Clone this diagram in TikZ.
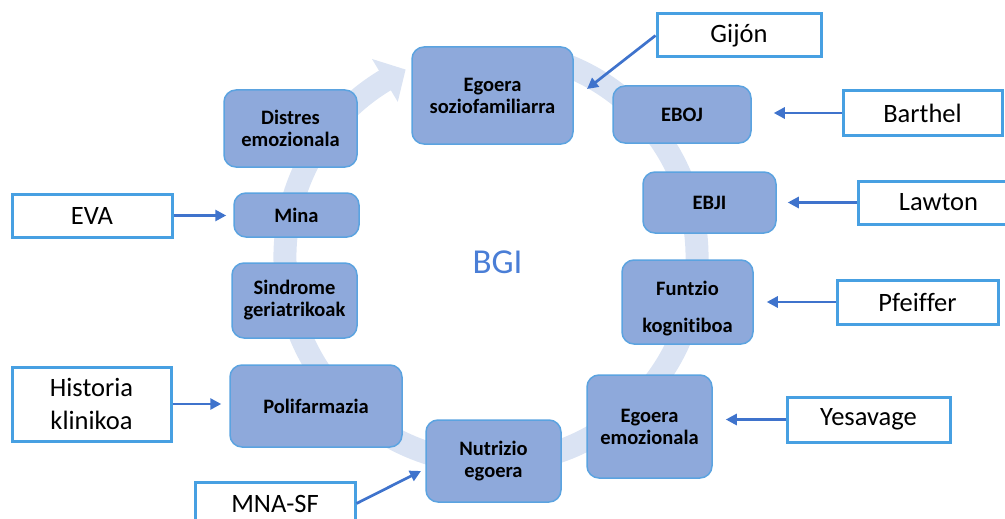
\documentclass[tikz,border=0pt]{standalone}
\usepackage{fontspec}
\setmainfont{Carlito}[Ligatures=NoCommon]
\usetikzlibrary{arrows.meta}
\definecolor{ringblue}{HTML}{DAE3F3}
\definecolor{boxfill}{HTML}{8EA9DB}
\definecolor{boxline}{HTML}{5BA3E0}
\definecolor{wline}{HTML}{47A0E2}
\definecolor{arrowblue}{HTML}{3F73CC}
\definecolor{bgiblue}{HTML}{4A7ED6}
\tikzset{
  bbox/.style={draw=boxline, line width=1.5pt, fill=boxfill, rounded corners=12pt,
    align=center, font=\fontsize{20.5}{22}\selectfont\bfseries, inner sep=0pt},
  wbox/.style={draw=wline, line width=3pt, fill=white, align=center,
    font=\fontsize{26.5}{33}\selectfont, inner sep=0pt},
  conn/.style={draw=arrowblue, line width=2.7pt, -{Triangle[length=11pt,width=11pt]}},
}
\begin{document}
\begin{tikzpicture}[x=1pt,y=-1pt]
\clip (0,0) rectangle (1005,519);
% circular background arrow
\begin{scope}[shift={(491,257)}]
  \draw[ringblue, line width=23pt] (-70:206) arc[start angle=-70, end angle=239.5, radius=206];
  \fill[ringblue] (-121:231) -- (-114.5:206) -- (-121:181) -- cycle;
\end{scope}
% blue boxes
\node[bbox, minimum width=161pt, minimum height=97pt] (soz) at (492.5,95.5) {Egoera\\soziofamiliarra};
\node[bbox, minimum width=133pt, minimum height=77pt] (distres) at (290.5,128.5) {Distres\\emozionala};
\node[bbox, minimum width=138pt, minimum height=57pt] (eboj) at (682,114.5) {EBOJ};
\node[bbox, minimum width=133pt, minimum height=61pt] (ebji) at (709.5,202.5) {EBJI};
\node[bbox, minimum width=125pt, minimum height=44pt] (mina) at (296.5,215) {Mina};
\node[bbox, minimum width=125pt, minimum height=75pt] (sindrome) at (294.5,300.5) {Sindrome\\geriatrikoak};
\node[bbox, minimum width=172pt, minimum height=82pt] (polif) at (316,406) {Polifarmazia};
\node[bbox, minimum width=131pt, minimum height=84pt, font=\fontsize{20.5}{37}\selectfont\bfseries] (funtzio) at (687.5,302) {\rule{0pt}{27.5pt}Funtzio\\kognitiboa};
\node[bbox, minimum width=125pt, minimum height=103pt] (emoz) at (649.5,426.5) {Egoera\\emozionala};
\node[bbox, minimum width=135pt, minimum height=82pt] (nutri) at (493.5,461) {Nutrizio\\egoera};
% centre label
\node[font=\fontsize{35}{40}\selectfont, text=bgiblue, inner sep=0pt] (bgi) at (497.5,262) {BGI};
% white boxes
\node[wbox, minimum width=164pt, minimum height=43pt] (gijon) at (739,35.5) {Gijón};
\node[wbox, minimum width=159pt, minimum height=44pt] (barthel) at (922.5,113) {Barthel};
\node[wbox, minimum width=161pt, minimum height=43pt] (lawton) at (938.5,202.5) {Lawton};
\node[wbox, minimum width=161pt, minimum height=44pt] (pfeiffer) at (917.5,302) {Pfeiffer};
\node[wbox, minimum width=163pt, minimum height=45pt] (yesavage) at (868.5,419.5) {Yesavage};
\node[wbox, minimum width=160pt, minimum height=43pt] (eva) at (92,215.5) {EVA};
\node[wbox, minimum width=159pt, minimum height=74pt] (historia) at (91.5,404) {Historia\\klinikoa};
\node[wbox, minimum width=160pt, minimum height=43pt] (mna) at (275,503.5) {MNA-SF};
% connector ends
\coordinate (gend) at (587,89);
\coordinate (mend) at (421,471);
% connectors
\draw[conn] (gijon.west) -- (gend);
\draw[conn, shorten >=22pt] (barthel.west) -- (barthel.west -| eboj.east);
\draw[conn, shorten >=11pt] (lawton.west) -- (lawton.west -| ebji.east);
\draw[conn, shorten >=13pt] (pfeiffer.west) -- (pfeiffer.west -| funtzio.east);
\draw[conn, shorten >=13pt] (yesavage.west) -- (yesavage.west -| emoz.east);
\draw[conn, shorten >=7pt] (eva.east) -- (eva.east -| mina.west);
\draw[conn, shorten >=8pt] (historia.east) -- (historia.east -| polif.west);
\draw[conn] (mna.east) -- (mend);
\end{tikzpicture}
\end{document}
